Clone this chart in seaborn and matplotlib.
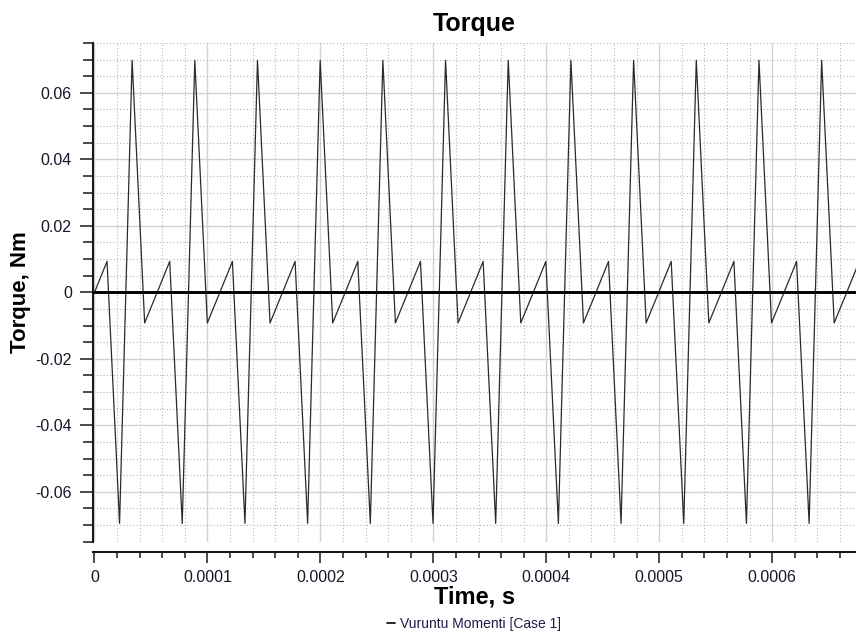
import numpy as np
import pandas as pd
import matplotlib
matplotlib.use("Agg")
import matplotlib.pyplot as plt
from matplotlib.ticker import MultipleLocator, FuncFormatter
from matplotlib.lines import Line2D
import seaborn as sns

# ---- data ----
time_us = [0.0, 11.1, 22.2, 33.3, 44.4, 55.5, 66.6, 77.7, 88.8, 99.9,
           111.0, 122.1, 133.2, 144.3, 155.4, 166.5, 177.6, 188.7, 199.8, 210.9,
           222.0, 233.1, 244.2, 255.3, 266.4, 277.5, 288.6, 299.7, 310.8, 321.9,
           333.0, 344.1, 355.2, 366.3, 377.4, 388.5, 399.6, 410.7, 421.8, 432.9,
           444.0, 455.1, 466.2, 477.3, 488.4, 499.5, 510.6, 521.7, 532.8, 543.9,
           555.0, 566.1, 577.2, 588.3, 599.4, 610.5, 621.6, 632.7, 643.8, 654.9,
           666.0, 677.1]
torque_nm = [0.0, 0.0093, -0.0695, 0.0698, -0.0092,
             0.0, 0.0093, -0.0695, 0.0698, -0.0092,
             0.0, 0.0093, -0.0695, 0.0698, -0.0092,
             0.0, 0.0093, -0.0695, 0.0698, -0.0092,
             0.0, 0.0093, -0.0695, 0.0698, -0.0092,
             0.0, 0.0093, -0.0695, 0.0698, -0.0092,
             0.0, 0.0093, -0.0695, 0.0698, -0.0092,
             0.0, 0.0093, -0.0695, 0.0698, -0.0092,
             0.0, 0.0093, -0.0695, 0.0698, -0.0092,
             0.0, 0.0093, -0.0695, 0.0698, -0.0092,
             0.0, 0.0093, -0.0695, 0.0698, -0.0092,
             0.0, 0.0093, -0.0695, 0.0698, -0.0092,
             0.0, 0.0093]
series_name = "Vuruntu Momenti [Case 1]"
title = "Torque"
x_label = "Time, s"
y_label = "Torque, Nm"

df = pd.DataFrame({"time": np.array(time_us) * 1e-6, "torque": torque_nm})

sns.set_style("white")
plt.rcParams["font.family"] = ["Liberation Sans", "DejaVu Sans"]
txt_color = "#16162a"

W, H = 856, 637
fig = plt.figure(figsize=(W / 100, H / 100), dpi=100)
ax_left, ax_right, ax_top, ax_bottom = 93.3, 856.0, 43.0, 541.7
ax = fig.add_axes([ax_left / W, 1 - ax_bottom / H, (ax_right - ax_left) / W, (ax_bottom - ax_top) / H])

sns.lineplot(data=df, x="time", y="torque", ax=ax, color="#2b2b2b", linewidth=0.9,
             legend=False, estimator=None, sort=False, zorder=3)
ax.axhline(0, color="black", linewidth=2.1, zorder=4)

ax.set_xlim(-1.06e-6, 6.742e-4)
ax.set_ylim(-0.075, 0.075)

ax.xaxis.set_major_locator(MultipleLocator(0.0001))
ax.xaxis.set_minor_locator(MultipleLocator(0.00002))
ax.yaxis.set_major_locator(MultipleLocator(0.02))
ax.yaxis.set_minor_locator(MultipleLocator(0.005))
fmt = FuncFormatter(lambda v, p: "0" if abs(v) < 1e-12 else "%g" % v)
ax.xaxis.set_major_formatter(fmt)
ax.yaxis.set_major_formatter(fmt)

ax.grid(which="major", color="#d2d2d2", linewidth=1.0, linestyle="-", zorder=0)
ax.grid(which="minor", color="#b5b5b5", linewidth=0.8, linestyle=(0, (1, 2)), zorder=0)
ax.set_axisbelow(True)

for s in ["top", "right"]:
    ax.spines[s].set_visible(False)
for s in ["left", "bottom"]:
    ax.spines[s].set_color("#1a1a1a")
    ax.spines[s].set_linewidth(1.5)
ax.spines["bottom"].set_position(("outward", 7.2))

ax.tick_params(axis="y", which="major", direction="out", length=9.5, width=1.1,
               color="#1a1a1a", pad=6, labelsize=11.5, labelcolor=txt_color, left=True)
ax.tick_params(axis="y", which="minor", direction="out", length=7.5, width=1.1,
               color="#1a1a1a", left=True)
ax.tick_params(axis="x", which="major", direction="out", length=8, width=1.1,
               color="#1a1a1a", pad=5, labelsize=11.5, labelcolor=txt_color, bottom=True)
ax.tick_params(axis="x", which="minor", direction="out", length=4.3, width=1.1,
               color="#1a1a1a", bottom=True)

ax.set_title(title, fontsize=18, fontweight="bold", color="black", pad=9)
ax.set_xlabel(x_label, fontsize=17, fontweight="bold", color="black")
ax.set_ylabel(y_label, fontsize=16, fontweight="bold", color="black")
ax.xaxis.set_label_coords(0.5, -0.088)
ax.yaxis.set_label_coords(-0.0813, 0.5)

handle = Line2D([], [], color="black", linewidth=1.2)
fig.legend([handle], [series_name], loc="center", bbox_to_anchor=(474 / W, 1 - 624 / H),
           frameon=False, fontsize=10, handlelength=0.6, handletextpad=0.4,
           labelcolor="#1c1c4a")

fig.savefig("out.png", dpi=100, facecolor="white")
